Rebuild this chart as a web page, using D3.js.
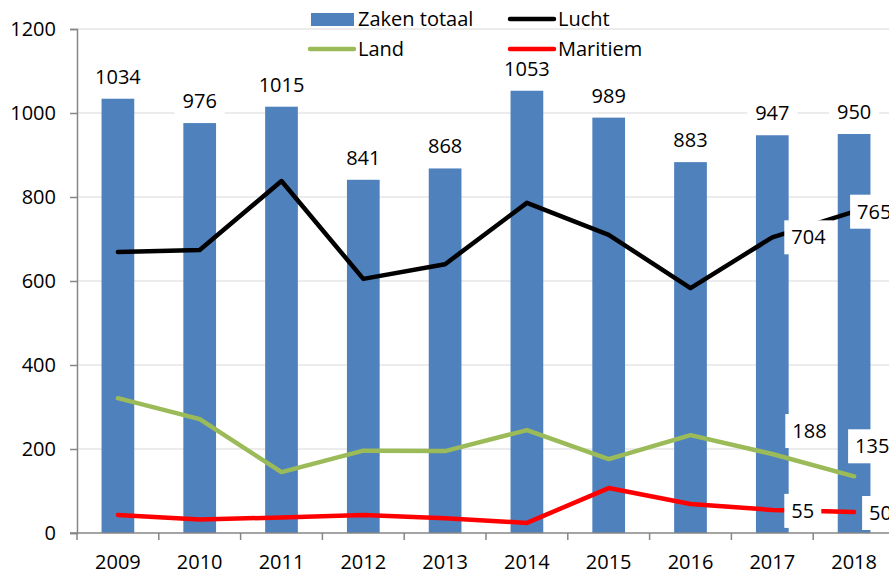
<!DOCTYPE html>
<html lang="nl">
<head>
  <meta charset="UTF-8">
  <title>Zaken totaal, Lucht, Land, Maritiem 2009-2018</title>
  <style>
    body, html {
      margin: 0;
      padding: 0;
      background: #fff;
      font-family: "Open Sans", Arial, sans-serif;
    }
    svg { display: block; }
  </style>
</head>
<body>
  <svg id="svg" width="889" height="574"></svg>

  <script src="https://cdn.jsdelivr.net/npm/d3@7"></script>
  <script>
    const years = ['2009', '2010', '2011', '2012', '2013', '2014', '2015', '2016', '2017', '2018'];
    const zakenTotaal = [1034, 976, 1015, 841, 868, 1053, 989, 883, 947, 950];
    const lucht = [669, 674, 838, 605, 640, 786, 710, 583, 704, 765];
    const land = [321, 271, 145, 196, 195, 245, 176, 233, 188, 135];
    const maritiem = [43, 32, 37, 43, 35, 24, 107, 69, 55, 50];
    const yTicks = [0, 200, 400, 600, 800, 1000, 1200];

    const series = [
      { name: 'Lucht', values: lucht, color: '#000000' },
      { name: 'Land', values: land, color: '#9BBB59' },
      { name: 'Maritiem', values: maritiem, color: '#FF0000' }
    ];

    // which line points get a label, and where its box sits relative to the point
    const lineLabels = [
      { s: 0, i: 8, dx: 12, dy: 0 },
      { s: 0, i: 9, dx: -4, dy: 0 },
      { s: 1, i: 8, dx: 13, dy: -23 },
      { s: 1, i: 9, dx: -6, dy: -30 },
      { s: 2, i: 8, dx: 12, dy: 1 },
      { s: 2, i: 9, dx: 8, dy: 1 }
    ];

    const svg = d3.select('#svg');
    const fontSize = 20;

    const x = d3.scaleBand()
      .domain(years)
      .range([77, 895]);

    const xBar = d3.scaleBand()
      .domain(years)
      .range([77, 895])
      .paddingInner(0.6)
      .paddingOuter(0.3);

    const y = d3.scaleLinear()
      .domain([0, 1200])
      .range([533, 29]);

    const cx = d => x(d) + x.bandwidth() / 2;

    // gridlines
    svg.append('g')
      .selectAll('line')
      .data(yTicks.filter(d => d > 0))
      .enter()
      .append('line')
      .attr('x1', 77)
      .attr('x2', 895)
      .attr('y1', d => y(d))
      .attr('y2', d => y(d))
      .attr('stroke', '#D9D9D9')
      .attr('stroke-width', 1);

    // bars
    svg.append('g')
      .selectAll('rect')
      .data(years)
      .enter()
      .append('rect')
      .attr('x', d => cx(d) - xBar.bandwidth() / 2)
      .attr('width', xBar.bandwidth())
      .attr('y', (d, i) => y(zakenTotaal[i]))
      .attr('height', (d, i) => y(0) - y(zakenTotaal[i]))
      .attr('fill', '#4F81BD');

    // bar labels with white boxes
    const barLab = svg.append('g')
      .selectAll('g')
      .data(years)
      .enter()
      .append('g')
      .attr('transform', (d, i) => `translate(${cx(d)},${y(zakenTotaal[i]) - 22})`);
    barLab.append('rect')
      .attr('x', -25)
      .attr('y', -16)
      .attr('width', 50)
      .attr('height', 32)
      .attr('fill', '#fff');
    barLab.append('text')
      .attr('text-anchor', 'middle')
      .attr('dy', '0.35em')
      .style('font-size', fontSize + 'px')
      .attr('fill', '#000')
      .text((d, i) => zakenTotaal[i]);

    // lines
    const linegen = d3.line()
      .x((d, i) => cx(years[i]))
      .y(d => y(d));

    svg.append('g')
      .selectAll('path')
      .data(series)
      .enter()
      .append('path')
      .attr('d', d => linegen(d.values))
      .attr('fill', 'none')
      .attr('stroke', d => d.color)
      .attr('stroke-width', 4.5)
      .attr('stroke-linejoin', 'round')
      .attr('stroke-linecap', 'round');

    // line labels
    const lineLab = svg.append('g')
      .selectAll('g')
      .data(lineLabels)
      .enter()
      .append('g')
      .attr('transform', d => {
        const v = series[d.s].values[d.i];
        return `translate(${cx(years[d.i]) + d.dx},${y(v) + d.dy})`;
      });
    lineLab.append('rect')
      .attr('x', 0)
      .attr('y', -17)
      .attr('width', d => String(series[d.s].values[d.i]).length * 11.5 + 14)
      .attr('height', 34)
      .attr('fill', '#fff');
    lineLab.append('text')
      .attr('x', 7)
      .attr('dy', '0.35em')
      .style('font-size', fontSize + 'px')
      .attr('fill', '#000')
      .text(d => series[d.s].values[d.i]);

    // y axis
    const yAxis = svg.append('g')
      .attr('transform', 'translate(77,0)')
      .call(d3.axisLeft(y).tickValues(yTicks).tickFormat(d3.format('d')).tickSize(7).tickPadding(14));
    yAxis.select('.domain').attr('stroke', '#868686').attr('stroke-width', 1.5);
    yAxis.selectAll('.tick line').attr('stroke', '#868686').attr('stroke-width', 1.5);
    yAxis.selectAll('text')
      .style('font-size', fontSize + 'px')
      .style('font-family', '"Open Sans", Arial, sans-serif')
      .attr('fill', '#000');

    // x axis
    const xAxis = svg.append('g')
      .attr('transform', `translate(0,${y(0)})`);
    xAxis.append('line')
      .attr('x1', 70)
      .attr('x2', 895)
      .attr('stroke', '#868686')
      .attr('stroke-width', 1.5);
    xAxis.selectAll('line.tk')
      .data(years)
      .enter()
      .append('line')
      .attr('class', 'tk')
      .attr('x1', d => x(d))
      .attr('x2', d => x(d))
      .attr('y1', 0)
      .attr('y2', 7)
      .attr('stroke', '#868686')
      .attr('stroke-width', 1.5);
    xAxis.selectAll('text')
      .data(years)
      .enter()
      .append('text')
      .attr('x', d => cx(d))
      .attr('y', 29)
      .attr('dy', '0.35em')
      .attr('text-anchor', 'middle')
      .style('font-size', fontSize + 'px')
      .attr('fill', '#000')
      .text(d => d);

    // legend
    const legendItems = [
      { name: 'Zaken totaal', color: '#4F81BD', type: 'bar', lx: 311, ly: 19 },
      { name: 'Lucht', color: '#000000', type: 'line', lx: 508, ly: 19 },
      { name: 'Land', color: '#9BBB59', type: 'line', lx: 308, ly: 49 },
      { name: 'Maritiem', color: '#FF0000', type: 'line', lx: 508, ly: 49 }
    ];
    const leg = svg.append('g')
      .selectAll('g')
      .data(legendItems)
      .enter()
      .append('g')
      .attr('transform', d => `translate(${d.lx},${d.ly})`);
    leg.filter(d => d.type === 'bar')
      .append('rect')
      .attr('x', 0)
      .attr('y', -6)
      .attr('width', 43)
      .attr('height', 13)
      .attr('fill', d => d.color);
    leg.filter(d => d.type === 'line')
      .append('line')
      .attr('x1', 2)
      .attr('x2', 46)
      .attr('stroke', d => d.color)
      .attr('stroke-width', 4.5)
      .attr('stroke-linecap', 'round');
    leg.append('text')
      .attr('x', d => d.type === 'bar' ? 47 : 50)
      .attr('dy', '0.35em')
      .style('font-size', fontSize + 'px')
      .attr('fill', '#000')
      .text(d => d.name);
  </script>
</body>
</html>
